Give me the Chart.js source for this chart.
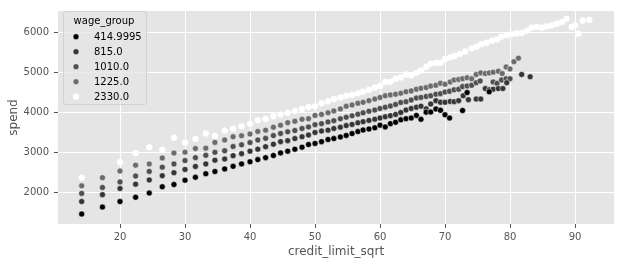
<!DOCTYPE html>
<html>
<head>
<meta charset="utf-8">
<script src="https://cdn.jsdelivr.net/npm/chart.js@4.4.1/dist/chart.umd.min.js"></script>
<style>
  html, body { margin: 0; padding: 0; background: #fff; }
  canvas { display: block; }
</style>
</head>
<body>
<canvas id="spendChart" width="621" height="265"></canvas>
<script>
// wage groups (hue) and their grey shades
const groupLabels = ["414.9995", "815.0", "1010.0", "1225.0", "2330.0"];
const groupColors = ["#000000", "#353535", "#4f4f4f", "#6c6c6c", "#ffffff"];

const xTicks = [20, 30, 40, 50, 60, 70, 80, 90];
const yTicks = [2000, 3000, 4000, 5000, 6000];

// credit_limit_sqrt columns shared by the groups on the left side
const gridX = [14.1, 17.3, 20.0, 22.4, 24.5, 26.5, 28.3, 30.0, 31.6, 33.2,
    34.6, 36.1, 37.4, 38.7, 40.0, 41.2, 42.4, 43.6, 44.7, 45.8,
    46.9, 48.0, 49.0, 50.0, 51.0, 52.0, 52.9, 53.9, 54.8, 55.7,
    56.6, 57.4, 58.3, 59.2, 60.0, 60.8, 61.6, 62.4, 63.2, 64.0,
    64.8, 65.6, 66.3, 67.1, 67.8, 68.6, 69.3, 70.0];

const x415 = [...gridX, 70.7, 72.7, 73.4, 76.8];
const y415 = [1456, 1629, 1769, 1875, 1983, 2138, 2195, 2303, 2376, 2465,
    2520, 2585, 2650, 2711, 2765, 2819, 2868, 2922, 2987, 3030,
    3078, 3130, 3195, 3224, 3269, 3322, 3345, 3385, 3425, 3470,
    3520, 3560, 3585, 3614, 3680, 3638, 3720, 3755, 3815, 3843,
    3860, 3926, 3828, 4007, 4010, 4089, 4055, 3941,
    3860, 4049, 4499, 4517];

const x815 = [...gridX, 70.8, 71.4, 72.1, 72.8, 73.6, 74.8, 75.5, 76.2, 76.8, 77.4, 78.2, 78.9, 79.5, 81.8, 83.1];
const y815 = [1769, 1941, 2096, 2204, 2310, 2416, 2490, 2573, 2647, 2711,
    2802, 2834, 2918, 2967, 3030, 3080, 3140, 3205, 3269, 3294,
    3345, 3392, 3434, 3498, 3533, 3557, 3597, 3630, 3670, 3700,
    3740, 3770, 3800, 3830, 3860, 3890, 3920, 3950, 4000, 4060,
    4100, 4130, 4155, 4090, 4212, 4295, 4253, 4253,
    4275, 4271, 4295, 4418, 4320, 4335, 4335, 4598, 4566, 4581, 4598, 4598, 4745, 4950, 4893];

const x1010 = [...gridX, 70.7, 71.4, 72.1, 72.7, 73.4, 74.1, 74.8, 75.4, 77.4, 78.0, 78.7, 79.4, 80.0];
const y1010 = [1973, 2121, 2261, 2408, 2524, 2630, 2711, 2794, 2868, 2925,
    3000, 3040, 3146, 3188, 3245, 3311, 3351, 3420, 3474, 3515,
    3547, 3597, 3638, 3695, 3720, 3761, 3793, 3840, 3880, 3915,
    3955, 3990, 4030, 4060, 4100, 4130, 4160, 4200, 4250, 4270,
    4310, 4360, 4376, 4400, 4418, 4458, 4470, 4510,
    4530, 4566, 4581, 4647, 4664, 4679, 4745, 4787, 4763, 4729, 4812, 4844, 4844];

const x1225 = [...gridX, 70.8, 71.4, 72.1, 72.7, 73.4, 74.1, 74.8, 75.5, 76.2, 76.8, 77.4, 78.2, 78.8, 79.4, 80.0, 80.6, 81.3];
const y1225 = [2162, 2367, 2531, 2679, 2711, 2859, 2982, 3006, 3097, 3105,
    3250, 3311, 3392, 3417, 3458, 3523, 3557, 3630, 3680, 3744,
    3779, 3828, 3843, 3926, 3951, 3990, 4039, 4089, 4155, 4187,
    4229, 4253, 4295, 4335, 4376, 4418, 4440, 4458, 4482, 4517,
    4540, 4581, 4605, 4622, 4660, 4679, 4729, 4704,
    4763, 4812, 4827, 4844, 4868, 4844, 4950, 4991, 4975, 4991, 5008, 5033, 4975, 5139, 5090, 5270, 5360];

const x2330 = [14.1, ...gridX.slice(2), 70.8, 71.5, 72.3, 73.1, 74.1, 74.9, 75.6, 76.4, 77.2, 78.0,
    78.7, 79.5, 80.3, 81.0, 81.8, 82.6, 83.3, 84.1, 84.9, 85.6,
    86.4, 87.2, 88.0, 88.7, 89.5, 90.0, 90.5, 91.2, 92.2];
const y2330 = [2367, 2753, 2982, 3129, 3065, 3368, 3245, 3335, 3474, 3410,
    3547, 3589, 3650, 3718, 3805, 3835, 3905, 3950, 3990, 4039,
    4089, 4138, 4155, 4229, 4278, 4335, 4376, 4418, 4440, 4480,
    4520, 4566, 4622, 4664, 4763, 4770, 4844, 4876, 4950, 4925,
    4991, 5048, 5139, 5220, 5237, 5245, 5336,
    5385, 5417, 5466, 5525, 5606, 5648, 5713, 5746, 5796, 5828,
    5894, 5934, 5959, 5975, 5992, 6042, 6123, 6140, 6123, 6155,
    6180, 6221, 6263, 6344, 6140, 6180, 5975, 6303, 6320];

const seriesX = [x415, x815, x1010, x1225, x2330];
const seriesY = [y415, y815, y1010, y1225, y2330];

const toPoints = (xs, ys) => xs.map((x, i) => ({ x, y: ys[i] }));

const tickFont = { family: "'DejaVu Sans', sans-serif", size: 10 };
const titleFont = { family: "'DejaVu Sans', sans-serif", size: 12 };

const plotBackground = {
    id: "plotBackground",
    beforeDraw(chart) {
        const { ctx, chartArea: a } = chart;
        ctx.save();
        ctx.fillStyle = "#e5e5e5";
        ctx.fillRect(a.left, a.top, a.right - a.left, a.bottom - a.top);
        ctx.restore();
    }
};

const groupLegend = {
    id: "groupLegend",
    afterDraw(chart) {
        const ctx = chart.ctx;
        ctx.save();
        ctx.beginPath();
        ctx.roundRect(63.5, 11.5, 83, 93, 2.5);
        ctx.fillStyle = "rgba(229,229,229,0.8)";
        ctx.fill();
        ctx.strokeStyle = "rgba(204,204,204,0.8)";
        ctx.lineWidth = 1;
        ctx.stroke();

        ctx.font = "10px 'DejaVu Sans', sans-serif";
        ctx.fillStyle = "#000";
        ctx.textBaseline = "middle";
        ctx.textAlign = "center";
        ctx.fillText("wage_group", 104, 21);

        ctx.textAlign = "left";
        groupLabels.forEach((label, i) => {
            const y = 36.7 + i * 15;
            ctx.beginPath();
            ctx.arc(76, y, 3, 0, Math.PI * 2);
            ctx.fillStyle = groupColors[i];
            ctx.fill();
            ctx.strokeStyle = "#fff";
            ctx.lineWidth = 0.5;
            ctx.stroke();
            ctx.fillStyle = "#000";
            ctx.fillText(label, 94, y + 0.5);
        });
        ctx.restore();
    }
};

new Chart(document.getElementById("spendChart"), {
    type: "scatter",
    data: {
        datasets: groupLabels.map((label, i) => ({
            label,
            data: toPoints(seriesX[i], seriesY[i]),
            backgroundColor: groupColors[i],
            borderColor: "#ffffff",
            borderWidth: 0.5,
            pointRadius: 3,
            pointHoverRadius: 3
        }))
    },
    options: {
        responsive: false,
        animation: false,
        devicePixelRatio: 1,
        layout: { padding: { top: 7, right: 7, left: 0, bottom: 0 } },
        plugins: {
            legend: { display: false },
            tooltip: { enabled: false }
        },
        scales: {
            x: {
                type: "linear",
                min: 10.46,
                max: 96.0,
                afterBuildTicks: (s) => { s.ticks = xTicks.map((v) => ({ value: v })); },
                afterFit: (s) => { s.height = 41; },
                grid: { color: "#ffffff", lineWidth: 1, tickColor: "#555555", tickLength: 4 },
                border: { display: false },
                ticks: { color: "#555555", font: tickFont, padding: 3, maxRotation: 0, autoSkip: false, callback: (v) => String(v) },
                title: { display: true, text: "credit_limit_sqrt", color: "#555555", font: titleFont, padding: { top: 0, bottom: 6 } }
            },
            y: {
                type: "linear",
                min: 1206,
                max: 6541,
                afterBuildTicks: (s) => { s.ticks = yTicks.map((v) => ({ value: v })); },
                afterFit: (s) => { s.width = 58; },
                grid: { color: "#ffffff", lineWidth: 1, tickColor: "#555555", tickLength: 4 },
                border: { display: false },
                ticks: { color: "#555555", font: tickFont, padding: 5, autoSkip: false, callback: (v) => String(v) },
                title: { display: true, text: "spend", color: "#555555", font: titleFont, padding: { top: 7, bottom: 0 } }
            }
        }
    },
    plugins: [plotBackground, groupLegend]
});
</script>
</body>
</html>
